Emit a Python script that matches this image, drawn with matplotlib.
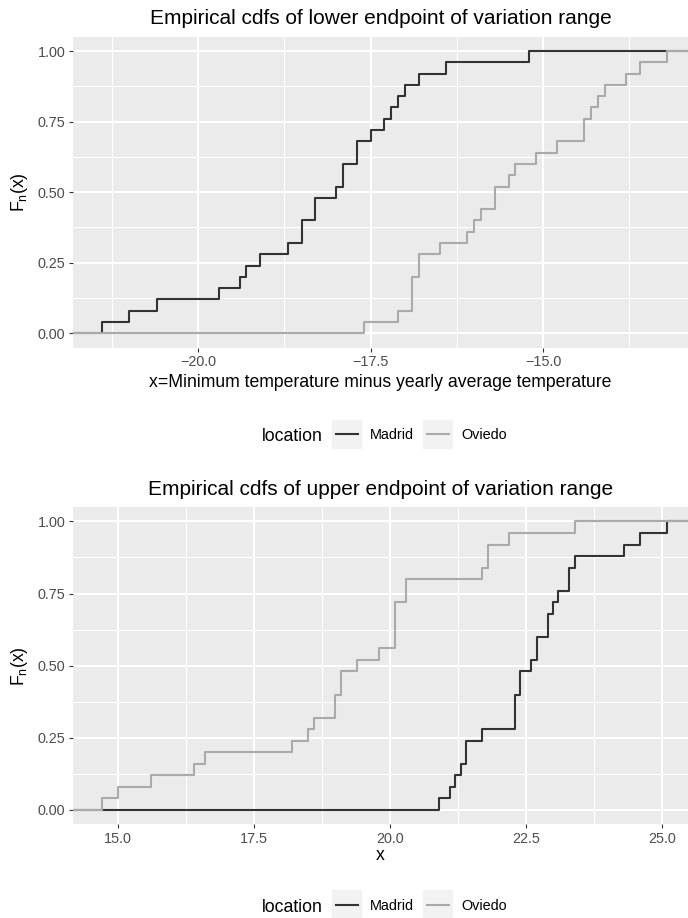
import numpy as np
import matplotlib
matplotlib.use("Agg")
from matplotlib import pyplot as plt
from matplotlib.patches import Rectangle
from matplotlib.lines import Line2D

plt.rcParams['font.family'] = ['Liberation Sans', 'DejaVu Sans']
plt.rcParams['mathtext.fontset'] = 'custom'
plt.rcParams['mathtext.rm'] = 'Liberation Sans'
plt.rcParams['mathtext.it'] = 'Liberation Sans:italic'

# lower endpoint of variation range (min temp minus yearly mean)
lowMadrid = [-21.4, -21.0, -20.6, -19.7, -19.4, -19.3, -19.1, -18.7, -18.5, -18.5,
             -18.3, -18.3, -18.0, -17.9, -17.9, -17.7, -17.7, -17.5, -17.3, -17.2,
             -17.1, -17.0, -16.8, -16.4, -15.2]
lowOviedo = [-17.6, -17.1, -16.9, -16.9, -16.9, -16.8, -16.8, -16.5, -16.1, -16.0,
             -15.9, -15.7, -15.7, -15.5, -15.4, -15.1, -14.8, -14.4, -14.4, -14.3,
             -14.2, -14.1, -13.8, -13.6, -13.2]
# upper endpoint
upMadrid = [20.9, 21.1, 21.2, 21.3, 21.4, 21.4, 21.7, 22.3, 22.3, 22.3,
            22.4, 22.4, 22.6, 22.7, 22.7, 22.9, 22.9, 23.0, 23.1, 23.3,
            23.3, 23.4, 24.3, 24.6, 25.1]
upOviedo = [14.7, 15.0, 15.6, 16.4, 16.6, 18.2, 18.5, 18.6, 19.0, 19.0,
            19.1, 19.1, 19.4, 19.8, 20.1, 20.1, 20.1, 20.1, 20.3, 20.3,
            21.7, 21.8, 21.8, 22.2, 23.4]

locations = ['Madrid', 'Oviedo']
colores = ['#333333', '#aaaaaa']
titles = ['Empirical cdfs of lower endpoint of variation range',
          'Empirical cdfs of upper endpoint of variation range']
xlabels = ['x=Minimum temperature minus yearly average temperature', 'x']
xticksTop = [-20.0, -17.5, -15.0]
xticksBottom = [15.0, 17.5, 20.0, 22.5, 25.0]
yticks = [0.0, 0.25, 0.5, 0.75, 1.0]

W, H = 688, 918
fig = plt.figure(figsize=(W/100, H/100), dpi=100)

def fx(px):
    return px/W

def fy(py):
    return 1 - py/H

def panel(top, bottom, data, xticks, title, xlabel, titleY, xlabY, legY):
    ax = fig.add_axes([fx(73.3), fy(bottom), fx(695.5) - fx(73.3), fy(top) - fy(bottom)])
    ax.set_facecolor('#ebebeb')
    for s in ax.spines.values():
        s.set_visible(False)
    allx = np.concatenate(data)
    lo, hi = allx.min(), allx.max()
    ex = 0.05*(hi - lo)
    xl = (lo - ex, hi + ex)
    for vals, col in zip(data, colores):
        xs = np.sort(np.asarray(vals))
        n = len(xs)
        xx = np.concatenate([[xl[0]], xs, [xl[1]]])
        yy = np.concatenate([[0], np.arange(1, n + 1)/n, [1]])
        ax.plot(xx, yy, drawstyle='steps-post', color=col, lw=1.5, zorder=3)
    ax.set_xticks(xticks)
    ax.set_xticklabels([('%.1f' % t).replace('-', '\u2212') for t in xticks])
    ax.set_yticks(yticks)
    ax.set_yticklabels(['%.2f' % t for t in yticks])
    step = xticks[1] - xticks[0]
    minx = np.arange(xticks[0] - step/2, xl[1], step)
    ax.set_xticks(minx, minor=True)
    ax.set_yticks([0.125, 0.375, 0.625, 0.875], minor=True)
    ax.set_xlim(xl)
    ax.set_ylim(-0.05, 1.05)
    ax.grid(True, which='major', color='white', lw=1.5, zorder=1)
    ax.grid(True, which='minor', color='white', lw=0.75, zorder=1)
    ax.set_axisbelow(True)
    ax.tick_params(which='major', length=3.2, width=0.8, color='#333333',
                   labelsize=10.4, labelcolor='#4d4d4d', pad=2.5)
    ax.tick_params(which='minor', length=0)
    fig.text(fx(380.5), fy(titleY), title, ha='center', va='baseline', fontsize=15)
    fig.text(fx(380.5), fy(xlabY), xlabel, ha='center', va='baseline', fontsize=12.7)
    fig.text(fx(20), fy((top + bottom)/2), r'$\mathregular{F_n(x)}$', rotation=90,
             ha='center', va='center', fontsize=12.7)
    # legend drawn by hand, ggplot style
    fig.text(fx(262), fy(legY + 7), 'location', ha='left', va='baseline', fontsize=12.7)
    for i, (lab, col) in enumerate(zip(locations, colores)):
        bx = 332 + i*91
        fig.patches.append(Rectangle((fx(bx), fy(legY + 14)), fx(29), 28/H,
                                     transform=fig.transFigure, color='#f2f2f2'))
        fig.lines.append(Line2D([fx(bx + 4), fx(bx + 26)], [fy(legY), fy(legY)],
                                transform=fig.transFigure, color=col, lw=1.5))
        fig.text(fx(bx + 38), fy(legY + 5), lab, ha='left', va='baseline', fontsize=10.4)
    return ax

panel(36.9, 347.5, [lowMadrid, lowOviedo], xticksTop, titles[0], xlabels[0],
      24, 387, 434)
panel(507, 824.4, [upMadrid, upOviedo], xticksBottom, titles[1], xlabels[1],
      495, 860, 904.5)

fig.savefig('out.png', dpi=100)
